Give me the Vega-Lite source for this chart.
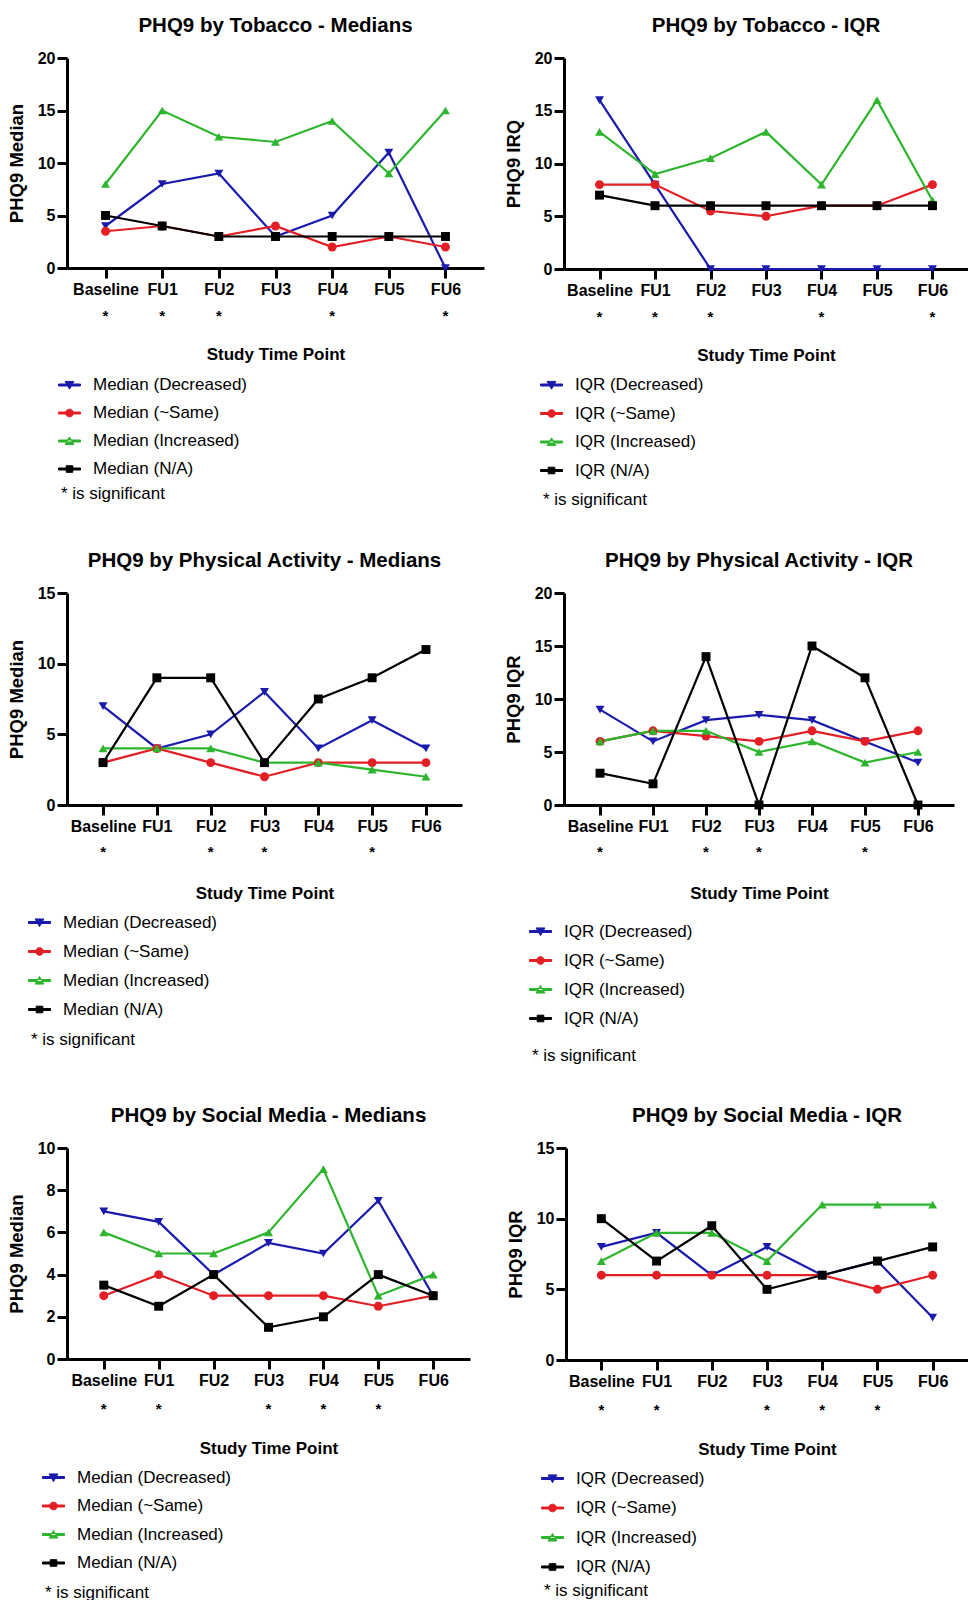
{
  "$schema": "https://vega.github.io/schema/vega-lite/v6.json",
  "background": "white",
  "padding": {"left": 7, "top": 15, "right": 0, "bottom": 0},
  "datasets": {
    "p1": [
      {"t":"Baseline","g":"Decreased","v":4},{"t":"FU1","g":"Decreased","v":8},{"t":"FU2","g":"Decreased","v":9},{"t":"FU3","g":"Decreased","v":3},{"t":"FU4","g":"Decreased","v":5},{"t":"FU5","g":"Decreased","v":11},{"t":"FU6","g":"Decreased","v":0},
      {"t":"Baseline","g":"~Same","v":3.5},{"t":"FU1","g":"~Same","v":4},{"t":"FU2","g":"~Same","v":3},{"t":"FU3","g":"~Same","v":4},{"t":"FU4","g":"~Same","v":2},{"t":"FU5","g":"~Same","v":3},{"t":"FU6","g":"~Same","v":2},
      {"t":"Baseline","g":"Increased","v":8},{"t":"FU1","g":"Increased","v":15},{"t":"FU2","g":"Increased","v":12.5},{"t":"FU3","g":"Increased","v":12},{"t":"FU4","g":"Increased","v":14},{"t":"FU5","g":"Increased","v":9},{"t":"FU6","g":"Increased","v":15},
      {"t":"Baseline","g":"N/A","v":5},{"t":"FU1","g":"N/A","v":4},{"t":"FU2","g":"N/A","v":3},{"t":"FU3","g":"N/A","v":3},{"t":"FU4","g":"N/A","v":3},{"t":"FU5","g":"N/A","v":3},{"t":"FU6","g":"N/A","v":3}
    ],
    "p2": [
      {"t":"Baseline","g":"Decreased","v":16},{"t":"FU1","g":"Decreased","v":8},{"t":"FU2","g":"Decreased","v":0},{"t":"FU3","g":"Decreased","v":0},{"t":"FU4","g":"Decreased","v":0},{"t":"FU5","g":"Decreased","v":0},{"t":"FU6","g":"Decreased","v":0},
      {"t":"Baseline","g":"~Same","v":8},{"t":"FU1","g":"~Same","v":8},{"t":"FU2","g":"~Same","v":5.5},{"t":"FU3","g":"~Same","v":5},{"t":"FU4","g":"~Same","v":6},{"t":"FU5","g":"~Same","v":6},{"t":"FU6","g":"~Same","v":8},
      {"t":"Baseline","g":"Increased","v":13},{"t":"FU1","g":"Increased","v":9},{"t":"FU2","g":"Increased","v":10.5},{"t":"FU3","g":"Increased","v":13},{"t":"FU4","g":"Increased","v":8},{"t":"FU5","g":"Increased","v":16},{"t":"FU6","g":"Increased","v":6.5},
      {"t":"Baseline","g":"N/A","v":7},{"t":"FU1","g":"N/A","v":6},{"t":"FU2","g":"N/A","v":6},{"t":"FU3","g":"N/A","v":6},{"t":"FU4","g":"N/A","v":6},{"t":"FU5","g":"N/A","v":6},{"t":"FU6","g":"N/A","v":6}
    ],
    "p3": [
      {"t":"Baseline","g":"Decreased","v":7},{"t":"FU1","g":"Decreased","v":4},{"t":"FU2","g":"Decreased","v":5},{"t":"FU3","g":"Decreased","v":8},{"t":"FU4","g":"Decreased","v":4},{"t":"FU5","g":"Decreased","v":6},{"t":"FU6","g":"Decreased","v":4},
      {"t":"Baseline","g":"~Same","v":3},{"t":"FU1","g":"~Same","v":4},{"t":"FU2","g":"~Same","v":3},{"t":"FU3","g":"~Same","v":2},{"t":"FU4","g":"~Same","v":3},{"t":"FU5","g":"~Same","v":3},{"t":"FU6","g":"~Same","v":3},
      {"t":"Baseline","g":"Increased","v":4},{"t":"FU1","g":"Increased","v":4},{"t":"FU2","g":"Increased","v":4},{"t":"FU3","g":"Increased","v":3},{"t":"FU4","g":"Increased","v":3},{"t":"FU5","g":"Increased","v":2.5},{"t":"FU6","g":"Increased","v":2},
      {"t":"Baseline","g":"N/A","v":3},{"t":"FU1","g":"N/A","v":9},{"t":"FU2","g":"N/A","v":9},{"t":"FU3","g":"N/A","v":3},{"t":"FU4","g":"N/A","v":7.5},{"t":"FU5","g":"N/A","v":9},{"t":"FU6","g":"N/A","v":11}
    ],
    "p4": [
      {"t":"Baseline","g":"Decreased","v":9},{"t":"FU1","g":"Decreased","v":6},{"t":"FU2","g":"Decreased","v":8},{"t":"FU3","g":"Decreased","v":8.5},{"t":"FU4","g":"Decreased","v":8},{"t":"FU5","g":"Decreased","v":6},{"t":"FU6","g":"Decreased","v":4},
      {"t":"Baseline","g":"~Same","v":6},{"t":"FU1","g":"~Same","v":7},{"t":"FU2","g":"~Same","v":6.5},{"t":"FU3","g":"~Same","v":6},{"t":"FU4","g":"~Same","v":7},{"t":"FU5","g":"~Same","v":6},{"t":"FU6","g":"~Same","v":7},
      {"t":"Baseline","g":"Increased","v":6},{"t":"FU1","g":"Increased","v":7},{"t":"FU2","g":"Increased","v":7},{"t":"FU3","g":"Increased","v":5},{"t":"FU4","g":"Increased","v":6},{"t":"FU5","g":"Increased","v":4},{"t":"FU6","g":"Increased","v":5},
      {"t":"Baseline","g":"N/A","v":3},{"t":"FU1","g":"N/A","v":2},{"t":"FU2","g":"N/A","v":14},{"t":"FU3","g":"N/A","v":0},{"t":"FU4","g":"N/A","v":15},{"t":"FU5","g":"N/A","v":12},{"t":"FU6","g":"N/A","v":0}
    ],
    "p5": [
      {"t":"Baseline","g":"Decreased","v":7},{"t":"FU1","g":"Decreased","v":6.5},{"t":"FU2","g":"Decreased","v":4},{"t":"FU3","g":"Decreased","v":5.5},{"t":"FU4","g":"Decreased","v":5},{"t":"FU5","g":"Decreased","v":7.5},{"t":"FU6","g":"Decreased","v":3},
      {"t":"Baseline","g":"~Same","v":3},{"t":"FU1","g":"~Same","v":4},{"t":"FU2","g":"~Same","v":3},{"t":"FU3","g":"~Same","v":3},{"t":"FU4","g":"~Same","v":3},{"t":"FU5","g":"~Same","v":2.5},{"t":"FU6","g":"~Same","v":3},
      {"t":"Baseline","g":"Increased","v":6},{"t":"FU1","g":"Increased","v":5},{"t":"FU2","g":"Increased","v":5},{"t":"FU3","g":"Increased","v":6},{"t":"FU4","g":"Increased","v":9},{"t":"FU5","g":"Increased","v":3},{"t":"FU6","g":"Increased","v":4},
      {"t":"Baseline","g":"N/A","v":3.5},{"t":"FU1","g":"N/A","v":2.5},{"t":"FU2","g":"N/A","v":4},{"t":"FU3","g":"N/A","v":1.5},{"t":"FU4","g":"N/A","v":2},{"t":"FU5","g":"N/A","v":4},{"t":"FU6","g":"N/A","v":3}
    ],
    "p6": [
      {"t":"Baseline","g":"Decreased","v":8},{"t":"FU1","g":"Decreased","v":9},{"t":"FU2","g":"Decreased","v":6},{"t":"FU3","g":"Decreased","v":8},{"t":"FU4","g":"Decreased","v":6},{"t":"FU5","g":"Decreased","v":7},{"t":"FU6","g":"Decreased","v":3},
      {"t":"Baseline","g":"~Same","v":6},{"t":"FU1","g":"~Same","v":6},{"t":"FU2","g":"~Same","v":6},{"t":"FU3","g":"~Same","v":6},{"t":"FU4","g":"~Same","v":6},{"t":"FU5","g":"~Same","v":5},{"t":"FU6","g":"~Same","v":6},
      {"t":"Baseline","g":"Increased","v":7},{"t":"FU1","g":"Increased","v":9},{"t":"FU2","g":"Increased","v":9},{"t":"FU3","g":"Increased","v":7},{"t":"FU4","g":"Increased","v":11},{"t":"FU5","g":"Increased","v":11},{"t":"FU6","g":"Increased","v":11},
      {"t":"Baseline","g":"N/A","v":10},{"t":"FU1","g":"N/A","v":7},{"t":"FU2","g":"N/A","v":9.5},{"t":"FU3","g":"N/A","v":5},{"t":"FU4","g":"N/A","v":6},{"t":"FU5","g":"N/A","v":7},{"t":"FU6","g":"N/A","v":8}
    ],
    "sigA": [{"t":"Baseline","sig":"*"},{"t":"FU1","sig":"*"},{"t":"FU2","sig":"*"},{"t":"FU4","sig":"*"},{"t":"FU6","sig":"*"}],
    "sigB": [{"t":"Baseline","sig":"*"},{"t":"FU2","sig":"*"},{"t":"FU3","sig":"*"},{"t":"FU5","sig":"*"}],
    "sigC": [{"t":"Baseline","sig":"*"},{"t":"FU1","sig":"*"},{"t":"FU3","sig":"*"},{"t":"FU4","sig":"*"},{"t":"FU5","sig":"*"}]
  },
  "vconcat": [
    {
      "hconcat": [
        {
          "bounds": "flush", "spacing": 40,
          "vconcat": [
            {
              "title": {"text": "PHQ9 by Tobacco - Medians", "offset": 14},
              "width": 417, "height": 210,
              "data": {"name": "p1"},
              "encoding": {
                "x": {"field": "t", "type": "ordinal", "scale": {"type": "point", "domain": ["Baseline","FU1","FU2","FU3","FU4","FU5","FU6"], "padding": 0.68}, "axis": {"title": null}},
                "y": {"field": "v", "type": "quantitative", "scale": {"domain": [0, 20]}, "axis": {"title": "PHQ9 Median", "values": [0,5,10,15,20]}},
                "color": {"field": "g", "type": "nominal", "scale": {"domain": ["Decreased","~Same","Increased","N/A"], "range": ["#1a1aad","#e31f26","#2db52d","#000000"]},
                  "legend": {"title": "* is significant", "labelExpr": "'Median (' + datum.label + ')'", "legendX": -6, "legendY": 318.5, "rowPadding": 10, "titlePadding": 8}}
              },
              "layer": [
                {"mark": {"type": "line", "strokeWidth": 2.2}, "encoding": {}},
                {"mark": {"type": "point", "filled": true, "size": 80, "opacity": 1}, "encoding": {"shape": {"condition": [{"test": "datum.g==='Decreased'", "value": "triangle-down"}, {"test": "datum.g==='~Same'", "value": "circle"}, {"test": "datum.g==='Increased'", "value": "triangle-up"}], "value": "square"}}},
                {"transform": [{"filter": "false"}], "mark": {"type": "point", "filled": true, "opacity": 1}, "encoding": {"shape": {"field": "g", "type": "nominal", "scale": {"domain": ["Decreased","~Same","Increased","N/A"], "range": ["M-2,-0.18H2V0.18H-2ZM-0.8,-0.65L0.8,-0.65L0,0.75Z","M-2,-0.18H2V0.18H-2ZM0.7,0A0.7,0.7 0 1,1 -0.7,0A0.7,0.7 0 1,1 0.7,0Z","M-2,-0.18H2V0.18H-2ZM-0.8,0.65L0.8,0.65L0,-0.75Z","M-2,-0.18H2V0.18H-2ZM-0.6,-0.6H0.6V0.6H-0.6Z"]},
                  "legend": {"title": "* is significant", "labelExpr": "'Median (' + datum.label + ')'", "legendX": -6, "legendY": 318.5, "rowPadding": 10, "titlePadding": 8}}}}
              ]
            },
            {
              "width": 417, "height": 16,
              "data": {"name": "sigA"},
              "mark": {"type": "text", "fontSize": 15, "fontWeight": "bold", "color": "black"},
              "encoding": {
                "x": {"field": "t", "type": "ordinal", "scale": {"type": "point", "domain": ["Baseline","FU1","FU2","FU3","FU4","FU5","FU6"], "padding": 0.68}, "axis": {"title": "Study Time Point", "domain": false, "ticks": false, "labels": false, "titlePadding": 22}},
                "text": {"field": "sig"}
              }
            }
          ]
        },
        {
          "bounds": "flush", "spacing": 40,
          "vconcat": [
            {
              "title": {"text": "PHQ9 by Tobacco - IQR", "offset": 14},
              "width": 404, "height": 211,
              "data": {"name": "p2"},
              "encoding": {
                "x": {"field": "t", "type": "ordinal", "scale": {"type": "point", "domain": ["Baseline","FU1","FU2","FU3","FU4","FU5","FU6"], "padding": 0.64}, "axis": {"title": null}},
                "y": {"field": "v", "type": "quantitative", "scale": {"domain": [0, 20]}, "axis": {"title": "PHQ9 IRQ", "values": [0,5,10,15,20]}},
                "color": {"field": "g", "type": "nominal", "scale": {"domain": ["Decreased","~Same","Increased","N/A"], "range": ["#1a1aad","#e31f26","#2db52d","#000000"]},
                  "legend": {"title": "* is significant", "labelExpr": "'IQR (' + datum.label + ')'", "legendX": -21, "legendY": 318.5, "rowPadding": 10.5, "titlePadding": 13.5}}
              },
              "layer": [
                {"mark": {"type": "line", "strokeWidth": 2.2}, "encoding": {}},
                {"mark": {"type": "point", "filled": true, "size": 80, "opacity": 1}, "encoding": {"shape": {"condition": [{"test": "datum.g==='Decreased'", "value": "triangle-down"}, {"test": "datum.g==='~Same'", "value": "circle"}, {"test": "datum.g==='Increased'", "value": "triangle-up"}], "value": "square"}}},
                {"transform": [{"filter": "false"}], "mark": {"type": "point", "filled": true, "opacity": 1}, "encoding": {"shape": {"field": "g", "type": "nominal", "scale": {"domain": ["Decreased","~Same","Increased","N/A"], "range": ["M-2,-0.18H2V0.18H-2ZM-0.8,-0.65L0.8,-0.65L0,0.75Z","M-2,-0.18H2V0.18H-2ZM0.7,0A0.7,0.7 0 1,1 -0.7,0A0.7,0.7 0 1,1 0.7,0Z","M-2,-0.18H2V0.18H-2ZM-0.8,0.65L0.8,0.65L0,-0.75Z","M-2,-0.18H2V0.18H-2ZM-0.6,-0.6H0.6V0.6H-0.6Z"]},
                  "legend": {"title": "* is significant", "labelExpr": "'IQR (' + datum.label + ')'", "legendX": -21, "legendY": 318.5, "rowPadding": 10.5, "titlePadding": 13.5}}}}
              ]
            },
            {
              "width": 404, "height": 16,
              "data": {"name": "sigA"},
              "mark": {"type": "text", "fontSize": 15, "fontWeight": "bold", "color": "black"},
              "encoding": {
                "x": {"field": "t", "type": "ordinal", "scale": {"type": "point", "domain": ["Baseline","FU1","FU2","FU3","FU4","FU5","FU6"], "padding": 0.64}, "axis": {"title": "Study Time Point", "domain": false, "ticks": false, "labels": false, "titlePadding": 22}},
                "text": {"field": "sig"}
              }
            }
          ]
        }
      ],
      "spacing": 20,
      "resolve": {"scale": {"color": "independent", "shape": "independent"}}
    },
    {
      "hconcat": [
        {
          "bounds": "flush", "spacing": 39,
          "vconcat": [
            {
              "title": {"text": "PHQ9 by Physical Activity - Medians", "offset": 14},
              "width": 395, "height": 212,
              "data": {"name": "p3"},
              "encoding": {
                "x": {"field": "t", "type": "ordinal", "scale": {"type": "point", "domain": ["Baseline","FU1","FU2","FU3","FU4","FU5","FU6"], "padding": 0.67}, "axis": {"title": null}},
                "y": {"field": "v", "type": "quantitative", "scale": {"domain": [0, 15]}, "axis": {"title": "PHQ9 Median", "values": [0,5,10,15]}},
                "color": {"field": "g", "type": "nominal", "scale": {"domain": ["Decreased","~Same","Increased","N/A"], "range": ["#1a1aad","#e31f26","#2db52d","#000000"]},
                  "legend": {"title": "* is significant", "labelExpr": "'Median (' + datum.label + ')'", "legendX": -36, "legendY": 321, "rowPadding": 11, "titlePadding": 14}}
              },
              "layer": [
                {"mark": {"type": "line", "strokeWidth": 2.2}, "encoding": {}},
                {"mark": {"type": "point", "filled": true, "size": 80, "opacity": 1}, "encoding": {"shape": {"condition": [{"test": "datum.g==='Decreased'", "value": "triangle-down"}, {"test": "datum.g==='~Same'", "value": "circle"}, {"test": "datum.g==='Increased'", "value": "triangle-up"}], "value": "square"}}},
                {"transform": [{"filter": "false"}], "mark": {"type": "point", "filled": true, "opacity": 1}, "encoding": {"shape": {"field": "g", "type": "nominal", "scale": {"domain": ["Decreased","~Same","Increased","N/A"], "range": ["M-2,-0.18H2V0.18H-2ZM-0.8,-0.65L0.8,-0.65L0,0.75Z","M-2,-0.18H2V0.18H-2ZM0.7,0A0.7,0.7 0 1,1 -0.7,0A0.7,0.7 0 1,1 0.7,0Z","M-2,-0.18H2V0.18H-2ZM-0.8,0.65L0.8,0.65L0,-0.75Z","M-2,-0.18H2V0.18H-2ZM-0.6,-0.6H0.6V0.6H-0.6Z"]},
                  "legend": {"title": "* is significant", "labelExpr": "'Median (' + datum.label + ')'", "legendX": -36, "legendY": 321, "rowPadding": 11, "titlePadding": 14}}}}
              ]
            },
            {
              "width": 395, "height": 16,
              "data": {"name": "sigB"},
              "mark": {"type": "text", "fontSize": 15, "fontWeight": "bold", "color": "black"},
              "encoding": {
                "x": {"field": "t", "type": "ordinal", "scale": {"type": "point", "domain": ["Baseline","FU1","FU2","FU3","FU4","FU5","FU6"], "padding": 0.67}, "axis": {"title": "Study Time Point", "domain": false, "ticks": false, "labels": false, "titlePadding": 25.5}},
                "text": {"field": "sig"}
              }
            }
          ]
        },
        {
          "bounds": "flush", "spacing": 39,
          "vconcat": [
            {
              "title": {"text": "PHQ9 by Physical Activity - IQR", "offset": 14},
              "width": 390, "height": 212,
              "data": {"name": "p4"},
              "encoding": {
                "x": {"field": "t", "type": "ordinal", "scale": {"type": "point", "domain": ["Baseline","FU1","FU2","FU3","FU4","FU5","FU6"], "padding": 0.68}, "axis": {"title": null}},
                "y": {"field": "v", "type": "quantitative", "scale": {"domain": [0, 20]}, "axis": {"title": "PHQ9 IQR", "values": [0,5,10,15,20]}},
                "color": {"field": "g", "type": "nominal", "scale": {"domain": ["Decreased","~Same","Increased","N/A"], "range": ["#1a1aad","#e31f26","#2db52d","#000000"]},
                  "legend": {"title": "* is significant", "labelExpr": "'IQR (' + datum.label + ')'", "legendX": -32, "legendY": 330, "rowPadding": 11, "titlePadding": 21}}
              },
              "layer": [
                {"mark": {"type": "line", "strokeWidth": 2.2}, "encoding": {}},
                {"mark": {"type": "point", "filled": true, "size": 80, "opacity": 1}, "encoding": {"shape": {"condition": [{"test": "datum.g==='Decreased'", "value": "triangle-down"}, {"test": "datum.g==='~Same'", "value": "circle"}, {"test": "datum.g==='Increased'", "value": "triangle-up"}], "value": "square"}}},
                {"transform": [{"filter": "false"}], "mark": {"type": "point", "filled": true, "opacity": 1}, "encoding": {"shape": {"field": "g", "type": "nominal", "scale": {"domain": ["Decreased","~Same","Increased","N/A"], "range": ["M-2,-0.18H2V0.18H-2ZM-0.8,-0.65L0.8,-0.65L0,0.75Z","M-2,-0.18H2V0.18H-2ZM0.7,0A0.7,0.7 0 1,1 -0.7,0A0.7,0.7 0 1,1 0.7,0Z","M-2,-0.18H2V0.18H-2ZM-0.8,0.65L0.8,0.65L0,-0.75Z","M-2,-0.18H2V0.18H-2ZM-0.6,-0.6H0.6V0.6H-0.6Z"]},
                  "legend": {"title": "* is significant", "labelExpr": "'IQR (' + datum.label + ')'", "legendX": -32, "legendY": 330, "rowPadding": 11, "titlePadding": 21}}}}
              ]
            },
            {
              "width": 390, "height": 16,
              "data": {"name": "sigB"},
              "mark": {"type": "text", "fontSize": 15, "fontWeight": "bold", "color": "black"},
              "encoding": {
                "x": {"field": "t", "type": "ordinal", "scale": {"type": "point", "domain": ["Baseline","FU1","FU2","FU3","FU4","FU5","FU6"], "padding": 0.68}, "axis": {"title": "Study Time Point", "domain": false, "ticks": false, "labels": false, "titlePadding": 25.5}},
                "text": {"field": "sig"}
              }
            }
          ]
        }
      ],
      "spacing": 42,
      "resolve": {"scale": {"color": "independent", "shape": "independent"}}
    },
    {
      "hconcat": [
        {
          "bounds": "flush", "spacing": 42,
          "vconcat": [
            {
              "title": {"text": "PHQ9 by Social Media - Medians", "offset": 14},
              "width": 403, "height": 211,
              "data": {"name": "p5"},
              "encoding": {
                "x": {"field": "t", "type": "ordinal", "scale": {"type": "point", "domain": ["Baseline","FU1","FU2","FU3","FU4","FU5","FU6"], "padding": 0.67}, "axis": {"title": null}},
                "y": {"field": "v", "type": "quantitative", "scale": {"domain": [0, 10]}, "axis": {"title": "PHQ9 Median", "values": [0,2,4,6,8,10]}},
                "color": {"field": "g", "type": "nominal", "scale": {"domain": ["Decreased","~Same","Increased","N/A"], "range": ["#1a1aad","#e31f26","#2db52d","#000000"]},
                  "legend": {"title": "* is significant", "labelExpr": "'Median (' + datum.label + ')'", "legendX": -22, "legendY": 321, "rowPadding": 10.5, "titlePadding": 13.5}}
              },
              "layer": [
                {"mark": {"type": "line", "strokeWidth": 2.2}, "encoding": {}},
                {"mark": {"type": "point", "filled": true, "size": 80, "opacity": 1}, "encoding": {"shape": {"condition": [{"test": "datum.g==='Decreased'", "value": "triangle-down"}, {"test": "datum.g==='~Same'", "value": "circle"}, {"test": "datum.g==='Increased'", "value": "triangle-up"}], "value": "square"}}},
                {"transform": [{"filter": "false"}], "mark": {"type": "point", "filled": true, "opacity": 1}, "encoding": {"shape": {"field": "g", "type": "nominal", "scale": {"domain": ["Decreased","~Same","Increased","N/A"], "range": ["M-2,-0.18H2V0.18H-2ZM-0.8,-0.65L0.8,-0.65L0,0.75Z","M-2,-0.18H2V0.18H-2ZM0.7,0A0.7,0.7 0 1,1 -0.7,0A0.7,0.7 0 1,1 0.7,0Z","M-2,-0.18H2V0.18H-2ZM-0.8,0.65L0.8,0.65L0,-0.75Z","M-2,-0.18H2V0.18H-2ZM-0.6,-0.6H0.6V0.6H-0.6Z"]},
                  "legend": {"title": "* is significant", "labelExpr": "'Median (' + datum.label + ')'", "legendX": -22, "legendY": 321, "rowPadding": 10.5, "titlePadding": 13.5}}}}
              ]
            },
            {
              "width": 403, "height": 16,
              "data": {"name": "sigC"},
              "mark": {"type": "text", "fontSize": 15, "fontWeight": "bold", "color": "black"},
              "encoding": {
                "x": {"field": "t", "type": "ordinal", "scale": {"type": "point", "domain": ["Baseline","FU1","FU2","FU3","FU4","FU5","FU6"], "padding": 0.67}, "axis": {"title": "Study Time Point", "domain": false, "ticks": false, "labels": false, "titlePadding": 23}},
                "text": {"field": "sig"}
              }
            }
          ]
        },
        {
          "bounds": "flush", "spacing": 42,
          "vconcat": [
            {
              "title": {"text": "PHQ9 by Social Media - IQR", "offset": 14},
              "width": 402, "height": 212,
              "data": {"name": "p6"},
              "encoding": {
                "x": {"field": "t", "type": "ordinal", "scale": {"type": "point", "domain": ["Baseline","FU1","FU2","FU3","FU4","FU5","FU6"], "padding": 0.64}, "axis": {"title": null}},
                "y": {"field": "v", "type": "quantitative", "scale": {"domain": [0, 15]}, "axis": {"title": "PHQ9 IQR", "values": [0,5,10,15]}},
                "color": {"field": "g", "type": "nominal", "scale": {"domain": ["Decreased","~Same","Increased","N/A"], "range": ["#1a1aad","#e31f26","#2db52d","#000000"]},
                  "legend": {"title": "* is significant", "labelExpr": "'IQR (' + datum.label + ')'", "legendX": -22, "legendY": 322, "rowPadding": 11.5, "titlePadding": 8}}
              },
              "layer": [
                {"mark": {"type": "line", "strokeWidth": 2.2}, "encoding": {}},
                {"mark": {"type": "point", "filled": true, "size": 80, "opacity": 1}, "encoding": {"shape": {"condition": [{"test": "datum.g==='Decreased'", "value": "triangle-down"}, {"test": "datum.g==='~Same'", "value": "circle"}, {"test": "datum.g==='Increased'", "value": "triangle-up"}], "value": "square"}}},
                {"transform": [{"filter": "false"}], "mark": {"type": "point", "filled": true, "opacity": 1}, "encoding": {"shape": {"field": "g", "type": "nominal", "scale": {"domain": ["Decreased","~Same","Increased","N/A"], "range": ["M-2,-0.18H2V0.18H-2ZM-0.8,-0.65L0.8,-0.65L0,0.75Z","M-2,-0.18H2V0.18H-2ZM0.7,0A0.7,0.7 0 1,1 -0.7,0A0.7,0.7 0 1,1 0.7,0Z","M-2,-0.18H2V0.18H-2ZM-0.8,0.65L0.8,0.65L0,-0.75Z","M-2,-0.18H2V0.18H-2ZM-0.6,-0.6H0.6V0.6H-0.6Z"]},
                  "legend": {"title": "* is significant", "labelExpr": "'IQR (' + datum.label + ')'", "legendX": -22, "legendY": 322, "rowPadding": 11.5, "titlePadding": 8}}}}
              ]
            },
            {
              "width": 402, "height": 16,
              "data": {"name": "sigC"},
              "mark": {"type": "text", "fontSize": 15, "fontWeight": "bold", "color": "black"},
              "encoding": {
                "x": {"field": "t", "type": "ordinal", "scale": {"type": "point", "domain": ["Baseline","FU1","FU2","FU3","FU4","FU5","FU6"], "padding": 0.64}, "axis": {"title": "Study Time Point", "domain": false, "ticks": false, "labels": false, "titlePadding": 23}},
                "text": {"field": "sig"}
              }
            }
          ]
        }
      ],
      "spacing": 36,
      "resolve": {"scale": {"color": "independent", "shape": "independent"}}
    }
  ],
  "spacing": 41,
  "resolve": {"scale": {"color": "independent", "shape": "independent"}},
  "config": {
    "font": "Liberation Sans",
    "view": {"stroke": null},
    "title": {"fontSize": 20.5, "fontWeight": "bold", "color": "black"},
    "axis": {"grid": false, "domainColor": "black", "domainWidth": 3, "tickColor": "black", "tickWidth": 3, "tickSize": 10, "labelColor": "black", "labelFontWeight": "bold", "labelFontSize": 16, "labelPadding": 3, "titleColor": "black", "titleFontWeight": "bold", "titleFontSize": 17, "labelAngle": 0},
    "axisY": {"titlePadding": 11, "labelPadding": 2, "titleFontSize": 18.5},
    "legend": {"orient": "none", "direction": "vertical", "labelFontSize": 17, "labelColor": "black", "titleFontSize": 17, "titleFontWeight": "normal", "titleColor": "black", "titleOrient": "bottom", "titleAnchor": "start", "symbolSize": 121, "symbolStrokeWidth": 1, "labelOffset": 15, "labelLimit": 400}
  }
}
